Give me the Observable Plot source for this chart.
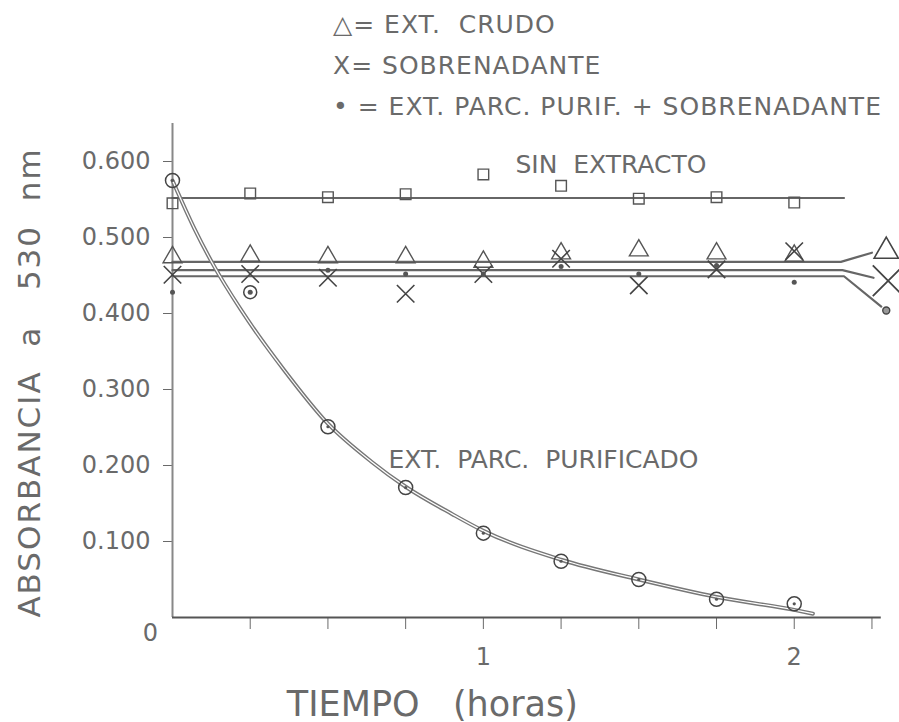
<!DOCTYPE html>
<html>
<head>
<meta charset="utf-8">
<script src="https://cdn.jsdelivr.net/npm/d3@7"></script>
<script src="https://cdn.jsdelivr.net/npm/@observablehq/plot@0.6"></script>
<style>
  html, body { margin: 0; padding: 0; background: #fff; }
  body { width: 899px; height: 722px; overflow: hidden; font-family: "DejaVu Sans", sans-serif; color: #6a6a6a; }
  #leyenda { position: relative; height: 118px; }
  #leyenda div { position: absolute; left: 333px; font-size: 25px; letter-spacing: 1px; white-space: nowrap; }
</style>
</head>
<body>
<div id="leyenda"></div>
<div id="grafico"></div>
<script>
// ---- Datos ----
const tiempo = [0, 0.25, 0.5, 0.75, 1, 1.25, 1.5, 1.75, 2];           // horas
const sinExtracto  = [0.545, 0.558, 0.553, 0.557, 0.583, 0.568, 0.551, 0.553, 0.546];
const extCrudo     = [0.474, 0.476, 0.474, 0.474, 0.468, 0.479, 0.483, 0.479, 0.476];
const sobrenadante = [0.451, 0.452, 0.447, 0.426, 0.452, 0.472, 0.437, 0.458, 0.482];
const mezcla       = [0.428, 0.428, 0.457, 0.452, 0.452, 0.462, 0.452, 0.463, 0.441];
const mezclaCircul = [false, true, false, false, false, false, false, false, false];

const purificadoT = [0, 0.5, 0.75, 1, 1.25, 1.5, 1.75, 2];
const purificado  = [0.575, 0.251, 0.171, 0.111, 0.074, 0.050, 0.024, 0.018];

// curva ajustada (trazo a mano) del extracto parcialmente purificado
const curvaT = [0, 0.07, 0.13, 0.22, 0.36, 0.5, 0.64, 0.75, 0.9, 1, 1.25, 1.5, 1.75, 2, 2.06];
const curvaV = [0.575, 0.512, 0.465, 0.405, 0.325, 0.255, 0.205, 0.172, 0.136, 0.114, 0.076, 0.050, 0.027, 0.010, 0.005];

// rectas ajustadas y sus líneas guía hacia los símbolos finales
const ajusteSinT = [0, 2.16];           const ajusteSinV = [0.552, 0.552];
const ajusteCrudoT = [0, 2.15, 2.25];   const ajusteCrudoV = [0.468, 0.468, 0.480];
const ajusteSobreT = [0, 2.155, 2.255]; const ajusteSobreV = [0.457, 0.457, 0.447];
const ajusteMezclaT = [0, 2.16, 2.28];  const ajusteMezclaV = [0.449, 0.449, 0.409];

// símbolos de rotulado al final de las rectas
const finalT = [2.296, 2.302, 2.296];
const finalV = [0.482, 0.443, 0.404];

// ejes
const yTicks = [0.1, 0.2, 0.3, 0.4, 0.5, 0.6];
const xTicks = [0.25, 0.5, 0.75, 1, 1.25, 1.5, 1.75, 2, 2.25];
const xTickLabels = ["", "", "", "1", "", "", "", "2", ""];
const origenLabel = "0";
const yLabel = "ABSORBANCIA\u00a0\u00a0a\u00a0\u00a0\u00a0530\u00a0\u00a0nm";
const xLabel = "TIEMPO\u00a0\u00a0\u00a0(horas)";

// textos
const leyendaSimbolos = ["\u25B3=", "X=", "\u2022 ="];
const leyendaTextos = ["EXT.\u00a0\u00a0CRUDO", "SOBRENADANTE", "EXT. PARC. PURIF. + SOBRENADANTE"];
const anotTextos = ["SIN\u00a0\u00a0EXTRACTO", "EXT.\u00a0\u00a0PARC.\u00a0\u00a0PURIFICADO"];
const anotT = [1.103, 0.695];
const anotV = [0.5855, 0.197];

// ---- Leyenda (HTML, encima del SVG) ----
const leyTops = [10, 51, 92];
const ley = document.getElementById("leyenda");
leyendaTextos.forEach((t, i) => {
  const d = document.createElement("div");
  d.style.top = leyTops[i] + "px";
  d.textContent = leyendaSimbolos[i] + " " + t;
  ley.appendChild(d);
});

// ---- Tablas ----
const puntos = tiempo.map((t, i) => ({t, sin: sinExtracto[i], crudo: extCrudo[i], sobre: sobrenadante[i], mezcla: mezcla[i], circ: mezclaCircul[i]}));
const puntosPur = purificadoT.map((t, i) => ({t, v: purificado[i]}));
const curva = curvaT.map((t, i) => ({t, v: curvaV[i]}));
const ajustes = [
  ...ajusteSinT.map((t, i) => ({s: "sin", t, v: ajusteSinV[i]})),
  ...ajusteCrudoT.map((t, i) => ({s: "crudo", t, v: ajusteCrudoV[i]})),
  ...ajusteSobreT.map((t, i) => ({s: "sobre", t, v: ajusteSobreV[i]})),
  ...ajusteMezclaT.map((t, i) => ({s: "mezcla", t, v: ajusteMezclaV[i]}))
];
const finales = finalT.map((t, i) => ({t, v: finalV[i]}));
const anot = anotTextos.map((texto, i) => ({texto, t: anotT[i], v: anotV[i]}));

const gris = "#666";
const texto = "#6a6a6a";
const chart = Plot.plot({
  width: 899,
  height: 604,
  marginLeft: 172,
  marginRight: 12,
  marginTop: 5,
  marginBottom: 105,
  x: {domain: [0, 2.3]},
  y: {domain: [0, 0.65]},
  style: {fontFamily: "DejaVu Sans, sans-serif", background: "white", color: texto, overflow: "visible"},
  marks: [
    Plot.axisY({ticks: yTicks, tickFormat: d3.format(".3f"), tickSize: 9, tickPadding: 13, fontSize: 24, label: null}),
    Plot.axisX({ticks: xTicks, tickFormat: (d, i) => xTickLabels[i], tickSize: 12, tickPadding: 18, fontSize: 24, label: null}),
    Plot.ruleX([0], {y1: 0, y2: 0.65, stroke: "#888", strokeWidth: 2}),
    Plot.ruleY([0], {x1: 0, x2: 2.28, stroke: "#555", strokeWidth: 2}),
    Plot.text([origenLabel], {x: 0, y: 0, text: d => d, dx: -22, dy: 16, fontSize: 24}),
    // rectas
    Plot.line(ajustes, {x: "t", y: "v", z: "s", stroke: gris, strokeWidth: 2.2}),
    // curva purificado (trazo doble)
    Plot.line(curva, {x: "t", y: "v", curve: "monotone-x", stroke: "#777", strokeWidth: 4}),
    Plot.line(curva, {x: "t", y: "v", curve: "monotone-x", stroke: "#fff", strokeWidth: 1.2}),
    // puntos
    Plot.dot(puntos, {x: "t", y: "sin", symbol: "square", r: 6, stroke: "#555", strokeWidth: 1.4, fill: "none"}),
    Plot.dot(puntos, {x: "t", y: "crudo", symbol: "triangle", r: 7, stroke: "#555", strokeWidth: 1.4, fill: "none"}),
    Plot.dot(puntos, {x: "t", y: "sobre", symbol: "times", r: 8, stroke: "#444", strokeWidth: 1.6}),
    Plot.dot(puntos, {x: "t", y: "mezcla", r: 2.5, fill: "#555", stroke: "none"}),
    Plot.dot(puntos.filter(d => d.circ), {x: "t", y: "mezcla", r: 6.5, stroke: "#444", strokeWidth: 1.5, fill: "none"}),
    Plot.dot(puntosPur, {x: "t", y: "v", r: 7, stroke: "#444", strokeWidth: 1.5, fill: "none"}),
    Plot.dot(puntosPur, {x: "t", y: "v", r: 1.6, fill: "#555"}),
    // símbolos finales
    Plot.dot(finales.slice(0, 1), {x: "t", y: "v", symbol: "triangle", r: 9, stroke: "#444", strokeWidth: 1.6, fill: "none"}),
    Plot.dot(finales.slice(1, 2), {x: "t", y: "v", symbol: "times", r: 14, stroke: "#444", strokeWidth: 1.8}),
    Plot.dot(finales.slice(2, 3), {x: "t", y: "v", r: 3.5, stroke: "#444", strokeWidth: 1.4, fill: "#999"}),
    // anotaciones
    Plot.text(anot, {x: "t", y: "v", text: "texto", textAnchor: "start", lineAnchor: "bottom", fontSize: 25, fill: texto}),
    // títulos de ejes
    Plot.text([yLabel], {frameAnchor: "left", textAnchor: "middle", lineAnchor: "middle", text: d => d, rotate: -90, dx: -142, dy: 12, fontSize: 31, fill: texto}),
    Plot.text([xLabel], {x: 0.836, frameAnchor: "bottom", text: d => d, lineAnchor: "bottom", dy: 98, fontSize: 35, fill: texto})
  ]
});
// espaciado entre letras del título vertical
d3.select(chart).selectAll("text").filter(function() { return this.textContent === yLabel; }).attr("letter-spacing", 2);
document.getElementById("grafico").appendChild(chart);
</script>
</body>
</html>
